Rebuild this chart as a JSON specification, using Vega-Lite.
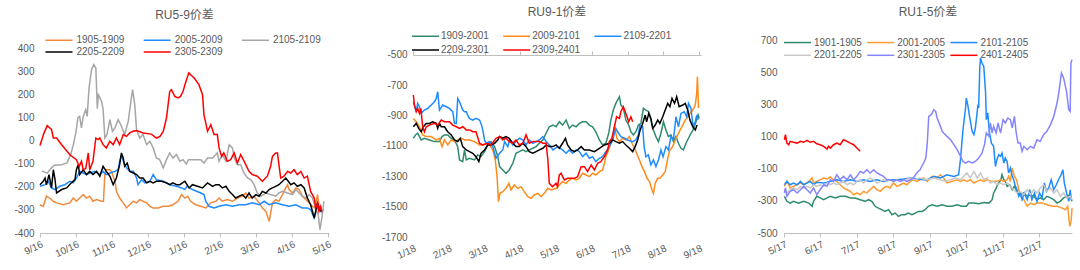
{
"$schema": "https://vega.github.io/schema/vega-lite/v6.json",
"padding": {"left": 0, "top": 6, "right": 0, "bottom": 0},
"background": "white",
"spacing": 40,
"resolve": {"scale": {"color": "independent"}, "legend": {"color": "independent"}},
"config": {
  "view": {"stroke": null},
  "font": "Liberation Sans, Noto Sans CJK SC",
  "axis": {"labelColor": "#595959", "labelFontSize": 10, "labelFont": "Liberation Sans", "grid": false, "title": null, "domainColor": "#BFBFBF", "tickColor": "#BFBFBF"},
  "legend": {"symbolType": "M-1.2,0H3.8", "symbolSize": 116.6, "symbolStrokeWidth": 2, "labelFontSize": 10, "labelColor": "#595959", "labelFont": "Liberation Sans", "title": null, "padding": 0, "offset": 0, "direction": "horizontal"},
  "title": {"fontSize": 12, "fontWeight": "normal", "color": "#595959", "font": "Liberation Sans, Noto Sans CJK SC"},
  "line": {"strokeWidth": 1.5}
},
"datasets": {
"p1": [
{"s":"1905-1909","m":0,"v":-277},{"s":"1905-1909","m":0.09,"v":-284},{"s":"1905-1909","m":0.18,"v":-240},{"s":"1905-1909","m":0.27,"v":-248},{"s":"1905-1909","m":0.37,"v":-262},{"s":"1905-1909","m":0.46,"v":-269},{"s":"1905-1909","m":0.64,"v":-277},{"s":"1905-1909","m":0.83,"v":-269},{"s":"1905-1909","m":0.92,"v":-248},{"s":"1905-1909","m":1.01,"v":-262},{"s":"1905-1909","m":1.1,"v":-248},{"s":"1905-1909","m":1.2,"v":-233},{"s":"1905-1909","m":1.29,"v":-248},{"s":"1905-1909","m":1.38,"v":-240},{"s":"1905-1909","m":1.47,"v":-262},{"s":"1905-1909","m":1.57,"v":-255},{"s":"1905-1909","m":1.71,"v":-262},{"s":"1905-1909","m":1.76,"v":-262},{"s":"1905-1909","m":1.8,"v":-146},{"s":"1905-1909","m":1.84,"v":-125},{"s":"1905-1909","m":1.94,"v":-125},{"s":"1905-1909","m":1.98,"v":-132},{"s":"1905-1909","m":2.08,"v":-175},{"s":"1905-1909","m":2.12,"v":-219},{"s":"1905-1909","m":2.21,"v":-248},{"s":"1905-1909","m":2.31,"v":-269},{"s":"1905-1909","m":2.4,"v":-291},{"s":"1905-1909","m":2.49,"v":-277},{"s":"1905-1909","m":2.59,"v":-262},{"s":"1905-1909","m":2.68,"v":-269},{"s":"1905-1909","m":2.77,"v":-255},{"s":"1905-1909","m":2.86,"v":-262},{"s":"1905-1909","m":2.96,"v":-269},{"s":"1905-1909","m":3.05,"v":-284},{"s":"1905-1909","m":3.14,"v":-291},{"s":"1905-1909","m":3.28,"v":-291},{"s":"1905-1909","m":3.42,"v":-284},{"s":"1905-1909","m":3.56,"v":-284},{"s":"1905-1909","m":3.69,"v":-277},{"s":"1905-1909","m":3.83,"v":-262},{"s":"1905-1909","m":3.93,"v":-233},{"s":"1905-1909","m":4.02,"v":-248},{"s":"1905-1909","m":4.1,"v":-240},{"s":"1905-1909","m":4.18,"v":-262},{"s":"1905-1909","m":4.32,"v":-277},{"s":"1905-1909","m":4.46,"v":-284},{"s":"1905-1909","m":4.6,"v":-291},{"s":"1905-1909","m":4.74,"v":-269},{"s":"1905-1909","m":4.88,"v":-262},{"s":"1905-1909","m":4.97,"v":-248},{"s":"1905-1909","m":5.06,"v":-262},{"s":"1905-1909","m":5.2,"v":-255},{"s":"1905-1909","m":5.34,"v":-262},{"s":"1905-1909","m":5.48,"v":-248},{"s":"1905-1909","m":5.62,"v":-240},{"s":"1905-1909","m":5.71,"v":-226},{"s":"1905-1909","m":5.8,"v":-248},{"s":"1905-1909","m":5.94,"v":-240},{"s":"1905-1909","m":6.08,"v":-269},{"s":"1905-1909","m":6.17,"v":-291},{"s":"1905-1909","m":6.27,"v":-306},{"s":"1905-1909","m":6.36,"v":-349},{"s":"1905-1909","m":6.41,"v":-306},{"s":"1905-1909","m":6.45,"v":-269},{"s":"1905-1909","m":6.54,"v":-255},{"s":"1905-1909","m":6.63,"v":-262},{"s":"1905-1909","m":6.73,"v":-233},{"s":"1905-1909","m":6.82,"v":-204},{"s":"1905-1909","m":6.87,"v":-190},{"s":"1905-1909","m":6.91,"v":-211},{"s":"1905-1909","m":7.01,"v":-226},{"s":"1905-1909","m":7.1,"v":-204},{"s":"1905-1909","m":7.19,"v":-211},{"s":"1905-1909","m":7.28,"v":-240},{"s":"1905-1909","m":7.38,"v":-255},{"s":"1905-1909","m":7.47,"v":-269},{"s":"1905-1909","m":7.56,"v":-284},{"s":"1905-1909","m":7.63,"v":-291},{"s":"1905-1909","m":7.7,"v":-233},{"s":"1905-1909","m":7.74,"v":-277},{"s":"1905-1909","m":7.79,"v":-298},
{"s":"2005-2009","m":0,"v":-197},{"s":"2005-2009","m":0.14,"v":-190},{"s":"2005-2009","m":0.23,"v":-175},{"s":"2005-2009","m":0.32,"v":-204},{"s":"2005-2009","m":0.41,"v":-211},{"s":"2005-2009","m":0.55,"v":-197},{"s":"2005-2009","m":0.69,"v":-190},{"s":"2005-2009","m":0.83,"v":-175},{"s":"2005-2009","m":0.92,"v":-182},{"s":"2005-2009","m":1.01,"v":-161},{"s":"2005-2009","m":1.1,"v":-132},{"s":"2005-2009","m":1.2,"v":-139},{"s":"2005-2009","m":1.29,"v":-146},{"s":"2005-2009","m":1.38,"v":-139},{"s":"2005-2009","m":1.52,"v":-132},{"s":"2005-2009","m":1.66,"v":-146},{"s":"2005-2009","m":1.75,"v":-132},{"s":"2005-2009","m":1.84,"v":-146},{"s":"2005-2009","m":1.94,"v":-139},{"s":"2005-2009","m":2.08,"v":-132},{"s":"2005-2009","m":2.17,"v":-125},{"s":"2005-2009","m":2.21,"v":-88},{"s":"2005-2009","m":2.26,"v":-62},{"s":"2005-2009","m":2.33,"v":-96},{"s":"2005-2009","m":2.4,"v":-117},{"s":"2005-2009","m":2.49,"v":-132},{"s":"2005-2009","m":2.59,"v":-132},{"s":"2005-2009","m":2.68,"v":-161},{"s":"2005-2009","m":2.72,"v":-190},{"s":"2005-2009","m":2.82,"v":-168},{"s":"2005-2009","m":2.91,"v":-182},{"s":"2005-2009","m":3.05,"v":-175},{"s":"2005-2009","m":3.14,"v":-146},{"s":"2005-2009","m":3.23,"v":-168},{"s":"2005-2009","m":3.42,"v":-175},{"s":"2005-2009","m":3.6,"v":-190},{"s":"2005-2009","m":3.79,"v":-197},{"s":"2005-2009","m":3.93,"v":-204},{"s":"2005-2009","m":4.02,"v":-211},{"s":"2005-2009","m":4.08,"v":-197},{"s":"2005-2009","m":4.23,"v":-211},{"s":"2005-2009","m":4.46,"v":-226},{"s":"2005-2009","m":4.55,"v":-233},{"s":"2005-2009","m":4.6,"v":-262},{"s":"2005-2009","m":4.69,"v":-284},{"s":"2005-2009","m":4.83,"v":-291},{"s":"2005-2009","m":4.97,"v":-284},{"s":"2005-2009","m":5.16,"v":-277},{"s":"2005-2009","m":5.34,"v":-284},{"s":"2005-2009","m":5.53,"v":-277},{"s":"2005-2009","m":5.71,"v":-277},{"s":"2005-2009","m":5.89,"v":-269},{"s":"2005-2009","m":6.08,"v":-277},{"s":"2005-2009","m":6.22,"v":-262},{"s":"2005-2009","m":6.36,"v":-277},{"s":"2005-2009","m":6.54,"v":-269},{"s":"2005-2009","m":6.73,"v":-277},{"s":"2005-2009","m":6.91,"v":-284},{"s":"2005-2009","m":7.1,"v":-277},{"s":"2005-2009","m":7.28,"v":-291},{"s":"2005-2009","m":7.42,"v":-291},{"s":"2005-2009","m":7.51,"v":-298},{"s":"2005-2009","m":7.61,"v":-335},{"s":"2005-2009","m":7.7,"v":-284},{"s":"2005-2009","m":7.79,"v":-306},{"s":"2005-2009","m":7.88,"v":-298},
{"s":"2105-2109","m":0.05,"v":-130},{"s":"2105-2109","m":0.2,"v":-140},{"s":"2105-2109","m":0.3,"v":-120},{"s":"2105-2109","m":0.4,"v":-105},{"s":"2105-2109","m":0.6,"v":-103},{"s":"2105-2109","m":0.75,"v":-95},{"s":"2105-2109","m":0.85,"v":-60},{"s":"2105-2109","m":0.92,"v":-20},{"s":"2105-2109","m":1.0,"v":40},{"s":"2105-2109","m":1.05,"v":100},{"s":"2105-2109","m":1.1,"v":107},{"s":"2105-2109","m":1.15,"v":57},{"s":"2105-2109","m":1.2,"v":107},{"s":"2105-2109","m":1.27,"v":136},{"s":"2105-2109","m":1.31,"v":107},{"s":"2105-2109","m":1.36,"v":230},{"s":"2105-2109","m":1.43,"v":310},{"s":"2105-2109","m":1.49,"v":332},{"s":"2105-2109","m":1.55,"v":317},{"s":"2105-2109","m":1.59,"v":140},{"s":"2105-2109","m":1.62,"v":201},{"s":"2105-2109","m":1.66,"v":190},{"s":"2105-2109","m":1.71,"v":170},{"s":"2105-2109","m":1.75,"v":140},{"s":"2105-2109","m":1.8,"v":13},{"s":"2105-2109","m":1.86,"v":28},{"s":"2105-2109","m":1.94,"v":93},{"s":"2105-2109","m":2.01,"v":42},{"s":"2105-2109","m":2.08,"v":57},{"s":"2105-2109","m":2.17,"v":93},{"s":"2105-2109","m":2.26,"v":64},{"s":"2105-2109","m":2.35,"v":28},{"s":"2105-2109","m":2.45,"v":86},{"s":"2105-2109","m":2.51,"v":158},{"s":"2105-2109","m":2.57,"v":223},{"s":"2105-2109","m":2.63,"v":158},{"s":"2105-2109","m":2.68,"v":49},{"s":"2105-2109","m":2.77,"v":13},{"s":"2105-2109","m":2.86,"v":28},{"s":"2105-2109","m":2.96,"v":-16},{"s":"2105-2109","m":3.05,"v":-1},{"s":"2105-2109","m":3.14,"v":-30},{"s":"2105-2109","m":3.23,"v":-74},{"s":"2105-2109","m":3.32,"v":-81},{"s":"2105-2109","m":3.42,"v":-117},{"s":"2105-2109","m":3.51,"v":-81},{"s":"2105-2109","m":3.6,"v":-52},{"s":"2105-2109","m":3.69,"v":-74},{"s":"2105-2109","m":3.79,"v":-59},{"s":"2105-2109","m":3.88,"v":-88},{"s":"2105-2109","m":3.97,"v":-81},{"s":"2105-2109","m":4.06,"v":-100},{"s":"2105-2109","m":4.12,"v":-81},{"s":"2105-2109","m":4.23,"v":-81},{"s":"2105-2109","m":4.46,"v":-81},{"s":"2105-2109","m":4.55,"v":-96},{"s":"2105-2109","m":4.65,"v":-74},{"s":"2105-2109","m":4.79,"v":-74},{"s":"2105-2109","m":4.88,"v":-59},{"s":"2105-2109","m":4.92,"v":-52},{"s":"2105-2109","m":4.97,"v":-88},{"s":"2105-2109","m":5.06,"v":-59},{"s":"2105-2109","m":5.16,"v":-88},{"s":"2105-2109","m":5.25,"v":-16},{"s":"2105-2109","m":5.34,"v":-30},{"s":"2105-2109","m":5.39,"v":-74},{"s":"2105-2109","m":5.48,"v":-103},{"s":"2105-2109","m":5.57,"v":-103},{"s":"2105-2109","m":5.66,"v":-139},{"s":"2105-2109","m":5.76,"v":-161},{"s":"2105-2109","m":5.85,"v":-168},{"s":"2105-2109","m":5.94,"v":-190},{"s":"2105-2109","m":6.03,"v":-226},{"s":"2105-2109","m":6.13,"v":-240},{"s":"2105-2109","m":6.27,"v":-226},{"s":"2105-2109","m":6.4,"v":-233},{"s":"2105-2109","m":6.54,"v":-240},{"s":"2105-2109","m":6.63,"v":-226},{"s":"2105-2109","m":6.73,"v":-219},{"s":"2105-2109","m":6.87,"v":-226},{"s":"2105-2109","m":7.01,"v":-233},{"s":"2105-2109","m":7.1,"v":-211},{"s":"2105-2109","m":7.19,"v":-226},{"s":"2105-2109","m":7.28,"v":-240},{"s":"2105-2109","m":7.38,"v":-248},{"s":"2105-2109","m":7.47,"v":-233},{"s":"2105-2109","m":7.56,"v":-248},{"s":"2105-2109","m":7.65,"v":-291},{"s":"2105-2109","m":7.72,"v":-320},{"s":"2105-2109","m":7.77,"v":-385},{"s":"2105-2109","m":7.82,"v":-335},{"s":"2105-2109","m":7.88,"v":-262},
{"s":"2205-2209","m":0,"v":-190},{"s":"2205-2209","m":0.09,"v":-175},{"s":"2205-2209","m":0.14,"v":-161},{"s":"2205-2209","m":0.18,"v":-190},{"s":"2205-2209","m":0.25,"v":-146},{"s":"2205-2209","m":0.32,"v":-204},{"s":"2205-2209","m":0.37,"v":-125},{"s":"2205-2209","m":0.41,"v":-161},{"s":"2205-2209","m":0.46,"v":-226},{"s":"2205-2209","m":0.6,"v":-211},{"s":"2205-2209","m":0.74,"v":-204},{"s":"2205-2209","m":0.87,"v":-182},{"s":"2205-2209","m":0.97,"v":-168},{"s":"2205-2209","m":1.01,"v":-125},{"s":"2205-2209","m":1.06,"v":-103},{"s":"2205-2209","m":1.1,"v":-146},{"s":"2205-2209","m":1.2,"v":-125},{"s":"2205-2209","m":1.29,"v":-146},{"s":"2205-2209","m":1.38,"v":-132},{"s":"2205-2209","m":1.47,"v":-146},{"s":"2205-2209","m":1.57,"v":-132},{"s":"2205-2209","m":1.66,"v":-153},{"s":"2205-2209","m":1.75,"v":-110},{"s":"2205-2209","m":1.84,"v":-132},{"s":"2205-2209","m":1.94,"v":-153},{"s":"2205-2209","m":2.03,"v":-190},{"s":"2205-2209","m":2.12,"v":-161},{"s":"2205-2209","m":2.21,"v":-103},{"s":"2205-2209","m":2.26,"v":-52},{"s":"2205-2209","m":2.31,"v":-74},{"s":"2205-2209","m":2.35,"v":-110},{"s":"2205-2209","m":2.42,"v":-96},{"s":"2205-2209","m":2.49,"v":-132},{"s":"2205-2209","m":2.59,"v":-139},{"s":"2205-2209","m":2.68,"v":-146},{"s":"2205-2209","m":2.77,"v":-161},{"s":"2205-2209","m":2.86,"v":-161},{"s":"2205-2209","m":2.96,"v":-182},{"s":"2205-2209","m":3.05,"v":-175},{"s":"2205-2209","m":3.14,"v":-182},{"s":"2205-2209","m":3.23,"v":-175},{"s":"2205-2209","m":3.37,"v":-175},{"s":"2205-2209","m":3.51,"v":-182},{"s":"2205-2209","m":3.6,"v":-190},{"s":"2205-2209","m":3.69,"v":-182},{"s":"2205-2209","m":3.79,"v":-190},{"s":"2205-2209","m":3.88,"v":-190},{"s":"2205-2209","m":4.02,"v":-175},{"s":"2205-2209","m":4.14,"v":-204},{"s":"2205-2209","m":4.23,"v":-190},{"s":"2205-2209","m":4.37,"v":-197},{"s":"2205-2209","m":4.51,"v":-204},{"s":"2205-2209","m":4.65,"v":-182},{"s":"2205-2209","m":4.79,"v":-197},{"s":"2205-2209","m":4.88,"v":-190},{"s":"2205-2209","m":4.97,"v":-190},{"s":"2205-2209","m":5.06,"v":-204},{"s":"2205-2209","m":5.16,"v":-197},{"s":"2205-2209","m":5.25,"v":-219},{"s":"2205-2209","m":5.34,"v":-233},{"s":"2205-2209","m":5.43,"v":-248},{"s":"2205-2209","m":5.53,"v":-240},{"s":"2205-2209","m":5.62,"v":-233},{"s":"2205-2209","m":5.71,"v":-248},{"s":"2205-2209","m":5.8,"v":-226},{"s":"2205-2209","m":5.89,"v":-248},{"s":"2205-2209","m":5.99,"v":-233},{"s":"2205-2209","m":6.08,"v":-240},{"s":"2205-2209","m":6.17,"v":-219},{"s":"2205-2209","m":6.27,"v":-226},{"s":"2205-2209","m":6.36,"v":-211},{"s":"2205-2209","m":6.45,"v":-204},{"s":"2205-2209","m":6.54,"v":-197},{"s":"2205-2209","m":6.63,"v":-190},{"s":"2205-2209","m":6.73,"v":-175},{"s":"2205-2209","m":6.82,"v":-161},{"s":"2205-2209","m":6.89,"v":-175},{"s":"2205-2209","m":6.96,"v":-190},{"s":"2205-2209","m":7.05,"v":-182},{"s":"2205-2209","m":7.14,"v":-197},{"s":"2205-2209","m":7.24,"v":-190},{"s":"2205-2209","m":7.33,"v":-204},{"s":"2205-2209","m":7.42,"v":-248},{"s":"2205-2209","m":7.51,"v":-277},{"s":"2205-2209","m":7.61,"v":-335},{"s":"2205-2209","m":7.65,"v":-306},{"s":"2205-2209","m":7.7,"v":-269},{"s":"2205-2209","m":7.74,"v":-291},{"s":"2205-2209","m":7.79,"v":-306},
{"s":"2305-2309","m":0,"v":-20},{"s":"2305-2309","m":0.1,"v":30},{"s":"2305-2309","m":0.2,"v":67},{"s":"2305-2309","m":0.25,"v":60},{"s":"2305-2309","m":0.32,"v":50},{"s":"2305-2309","m":0.37,"v":13},{"s":"2305-2309","m":0.46,"v":13},{"s":"2305-2309","m":0.6,"v":-16},{"s":"2305-2309","m":0.83,"v":-60},{"s":"2305-2309","m":1.01,"v":-81},{"s":"2305-2309","m":1.09,"v":-110},{"s":"2305-2309","m":1.15,"v":-88},{"s":"2305-2309","m":1.2,"v":-125},{"s":"2305-2309","m":1.27,"v":-120},{"s":"2305-2309","m":1.34,"v":-52},{"s":"2305-2309","m":1.38,"v":-125},{"s":"2305-2309","m":1.47,"v":-88},{"s":"2305-2309","m":1.55,"v":13},{"s":"2305-2309","m":1.61,"v":6},{"s":"2305-2309","m":1.66,"v":13},{"s":"2305-2309","m":1.75,"v":-16},{"s":"2305-2309","m":1.84,"v":-30},{"s":"2305-2309","m":1.94,"v":-1},{"s":"2305-2309","m":2.03,"v":-16},{"s":"2305-2309","m":2.12,"v":13},{"s":"2305-2309","m":2.21,"v":-16},{"s":"2305-2309","m":2.31,"v":28},{"s":"2305-2309","m":2.4,"v":20},{"s":"2305-2309","m":2.49,"v":35},{"s":"2305-2309","m":2.58,"v":42},{"s":"2305-2309","m":2.68,"v":45},{"s":"2305-2309","m":2.86,"v":35},{"s":"2305-2309","m":3.09,"v":30},{"s":"2305-2309","m":3.23,"v":13},{"s":"2305-2309","m":3.33,"v":20},{"s":"2305-2309","m":3.42,"v":42},{"s":"2305-2309","m":3.51,"v":100},{"s":"2305-2309","m":3.6,"v":216},{"s":"2305-2309","m":3.65,"v":223},{"s":"2305-2309","m":3.74,"v":194},{"s":"2305-2309","m":3.83,"v":187},{"s":"2305-2309","m":3.9,"v":194},{"s":"2305-2309","m":3.97,"v":216},{"s":"2305-2309","m":4.05,"v":259},{"s":"2305-2309","m":4.13,"v":296},{"s":"2305-2309","m":4.18,"v":288},{"s":"2305-2309","m":4.28,"v":274},{"s":"2305-2309","m":4.41,"v":245},{"s":"2305-2309","m":4.51,"v":201},{"s":"2305-2309","m":4.55,"v":115},{"s":"2305-2309","m":4.65,"v":42},{"s":"2305-2309","m":4.74,"v":71},{"s":"2305-2309","m":4.83,"v":28},{"s":"2305-2309","m":4.92,"v":28},{"s":"2305-2309","m":4.97,"v":-30},{"s":"2305-2309","m":5.04,"v":-67},{"s":"2305-2309","m":5.1,"v":-52},{"s":"2305-2309","m":5.2,"v":-88},{"s":"2305-2309","m":5.29,"v":-81},{"s":"2305-2309","m":5.39,"v":-52},{"s":"2305-2309","m":5.48,"v":-96},{"s":"2305-2309","m":5.57,"v":-59},{"s":"2305-2309","m":5.71,"v":-103},{"s":"2305-2309","m":5.8,"v":-132},{"s":"2305-2309","m":5.89,"v":-146},{"s":"2305-2309","m":6.03,"v":-153},{"s":"2305-2309","m":6.17,"v":-175},{"s":"2305-2309","m":6.31,"v":-153},{"s":"2305-2309","m":6.4,"v":-110},{"s":"2305-2309","m":6.45,"v":-67},{"s":"2305-2309","m":6.54,"v":-52},{"s":"2305-2309","m":6.59,"v":-52},{"s":"2305-2309","m":6.63,"v":-103},{"s":"2305-2309","m":6.68,"v":-161},{"s":"2305-2309","m":6.77,"v":-153},{"s":"2305-2309","m":6.87,"v":-132},{"s":"2305-2309","m":6.96,"v":-139},{"s":"2305-2309","m":7.05,"v":-125},{"s":"2305-2309","m":7.14,"v":-146},{"s":"2305-2309","m":7.24,"v":-132},{"s":"2305-2309","m":7.33,"v":-161},{"s":"2305-2309","m":7.42,"v":-153},{"s":"2305-2309","m":7.51,"v":-219},{"s":"2305-2309","m":7.61,"v":-248},{"s":"2305-2309","m":7.65,"v":-291},{"s":"2305-2309","m":7.7,"v":-269},{"s":"2305-2309","m":7.74,"v":-306},{"s":"2305-2309","m":7.79,"v":-284},{"s":"2305-2309","m":7.82,"v":-310}
],
"p2": [
{"s":"1909-2001","m":0.01,"v":-1049},{"s":"1909-2001","m":0.07,"v":-1027},{"s":"1909-2001","m":0.13,"v":-1016},{"s":"1909-2001","m":0.23,"v":-1060},{"s":"1909-2001","m":0.32,"v":-1049},{"s":"1909-2001","m":0.46,"v":-1060},{"s":"1909-2001","m":0.6,"v":-1071},{"s":"1909-2001","m":0.74,"v":-1071},{"s":"1909-2001","m":0.81,"v":-1038},{"s":"1909-2001","m":0.88,"v":-1027},{"s":"1909-2001","m":0.97,"v":-1027},{"s":"1909-2001","m":1.07,"v":-1049},{"s":"1909-2001","m":1.16,"v":-1060},{"s":"1909-2001","m":1.25,"v":-1104},{"s":"1909-2001","m":1.3,"v":-1192},{"s":"1909-2001","m":1.39,"v":-1203},{"s":"1909-2001","m":1.44,"v":-1126},{"s":"1909-2001","m":1.49,"v":-1192},{"s":"1909-2001","m":1.58,"v":-1181},{"s":"1909-2001","m":1.72,"v":-1192},{"s":"1909-2001","m":1.81,"v":-1159},{"s":"1909-2001","m":1.9,"v":-1170},{"s":"1909-2001","m":2.0,"v":-1137},{"s":"1909-2001","m":2.09,"v":-1093},{"s":"1909-2001","m":2.18,"v":-1071},{"s":"1909-2001","m":2.28,"v":-1104},{"s":"1909-2001","m":2.37,"v":-1170},{"s":"1909-2001","m":2.42,"v":-1236},{"s":"1909-2001","m":2.51,"v":-1258},{"s":"1909-2001","m":2.6,"v":-1280},{"s":"1909-2001","m":2.69,"v":-1258},{"s":"1909-2001","m":2.79,"v":-1214},{"s":"1909-2001","m":2.88,"v":-1148},{"s":"1909-2001","m":2.97,"v":-1137},{"s":"1909-2001","m":3.07,"v":-1126},{"s":"1909-2001","m":3.16,"v":-1137},{"s":"1909-2001","m":3.25,"v":-1126},{"s":"1909-2001","m":3.35,"v":-1115},{"s":"1909-2001","m":3.44,"v":-1104},{"s":"1909-2001","m":3.53,"v":-1082},{"s":"1909-2001","m":3.63,"v":-1060},{"s":"1909-2001","m":3.72,"v":-1016},{"s":"1909-2001","m":3.81,"v":-973},{"s":"1909-2001","m":3.91,"v":-962},{"s":"1909-2001","m":4.0,"v":-973},{"s":"1909-2001","m":4.09,"v":-940},{"s":"1909-2001","m":4.18,"v":-962},{"s":"1909-2001","m":4.28,"v":-929},{"s":"1909-2001","m":4.37,"v":-984},{"s":"1909-2001","m":4.46,"v":-962},{"s":"1909-2001","m":4.56,"v":-973},{"s":"1909-2001","m":4.65,"v":-951},{"s":"1909-2001","m":4.74,"v":-940},{"s":"1909-2001","m":4.84,"v":-940},{"s":"1909-2001","m":4.93,"v":-962},{"s":"1909-2001","m":5.02,"v":-973},{"s":"1909-2001","m":5.11,"v":-1006},{"s":"1909-2001","m":5.21,"v":-1060},{"s":"1909-2001","m":5.3,"v":-1093},{"s":"1909-2001","m":5.39,"v":-1082},{"s":"1909-2001","m":5.47,"v":-1016},{"s":"1909-2001","m":5.53,"v":-929},{"s":"1909-2001","m":5.6,"v":-863},{"s":"1909-2001","m":5.67,"v":-819},{"s":"1909-2001","m":5.77,"v":-775},{"s":"1909-2001","m":5.81,"v":-830},{"s":"1909-2001","m":5.88,"v":-852},{"s":"1909-2001","m":5.95,"v":-929},{"s":"1909-2001","m":6.03,"v":-962},{"s":"1909-2001","m":6.09,"v":-1006},{"s":"1909-2001","m":6.16,"v":-1027},{"s":"1909-2001","m":6.23,"v":-1006},{"s":"1909-2001","m":6.3,"v":-962},{"s":"1909-2001","m":6.37,"v":-951},{"s":"1909-2001","m":6.44,"v":-852},{"s":"1909-2001","m":6.51,"v":-863},{"s":"1909-2001","m":6.59,"v":-874},{"s":"1909-2001","m":6.65,"v":-929},{"s":"1909-2001","m":6.72,"v":-994},{"s":"1909-2001","m":6.79,"v":-1038},{"s":"1909-2001","m":6.86,"v":-1071},{"s":"1909-2001","m":6.93,"v":-1016},{"s":"1909-2001","m":7.0,"v":-940},{"s":"1909-2001","m":7.07,"v":-994},{"s":"1909-2001","m":7.14,"v":-1038},{"s":"1909-2001","m":7.21,"v":-1027},{"s":"1909-2001","m":7.28,"v":-1071},{"s":"1909-2001","m":7.35,"v":-1038},{"s":"1909-2001","m":7.42,"v":-1082},{"s":"1909-2001","m":7.49,"v":-1115},{"s":"1909-2001","m":7.56,"v":-1126},{"s":"1909-2001","m":7.63,"v":-1082},{"s":"1909-2001","m":7.7,"v":-1049},{"s":"1909-2001","m":7.77,"v":-1016},{"s":"1909-2001","m":7.83,"v":-994},{"s":"1909-2001","m":7.91,"v":-940},{"s":"1909-2001","m":7.97,"v":-896},{"s":"1909-2001","m":8.0,"v":-918},
{"s":"2009-2101","m":0.01,"v":-918},{"s":"2009-2101","m":0.09,"v":-940},{"s":"2009-2101","m":0.18,"v":-973},{"s":"2009-2101","m":0.27,"v":-1027},{"s":"2009-2101","m":0.37,"v":-1038},{"s":"2009-2101","m":0.51,"v":-1038},{"s":"2009-2101","m":0.65,"v":-1060},{"s":"2009-2101","m":0.74,"v":-1049},{"s":"2009-2101","m":0.81,"v":-1104},{"s":"2009-2101","m":0.88,"v":-1060},{"s":"2009-2101","m":0.97,"v":-1093},{"s":"2009-2101","m":1.07,"v":-1060},{"s":"2009-2101","m":1.16,"v":-1071},{"s":"2009-2101","m":1.25,"v":-1060},{"s":"2009-2101","m":1.35,"v":-1049},{"s":"2009-2101","m":1.44,"v":-1060},{"s":"2009-2101","m":1.58,"v":-1060},{"s":"2009-2101","m":1.72,"v":-1071},{"s":"2009-2101","m":1.86,"v":-1093},{"s":"2009-2101","m":1.95,"v":-1093},{"s":"2009-2101","m":2.04,"v":-1082},{"s":"2009-2101","m":2.14,"v":-1093},{"s":"2009-2101","m":2.23,"v":-1126},{"s":"2009-2101","m":2.3,"v":-1192},{"s":"2009-2101","m":2.35,"v":-1302},{"s":"2009-2101","m":2.39,"v":-1467},{"s":"2009-2101","m":2.43,"v":-1412},{"s":"2009-2101","m":2.51,"v":-1401},{"s":"2009-2101","m":2.6,"v":-1379},{"s":"2009-2101","m":2.68,"v":-1346},{"s":"2009-2101","m":2.74,"v":-1390},{"s":"2009-2101","m":2.83,"v":-1357},{"s":"2009-2101","m":2.93,"v":-1379},{"s":"2009-2101","m":3.02,"v":-1368},{"s":"2009-2101","m":3.11,"v":-1401},{"s":"2009-2101","m":3.21,"v":-1434},{"s":"2009-2101","m":3.3,"v":-1445},{"s":"2009-2101","m":3.39,"v":-1423},{"s":"2009-2101","m":3.49,"v":-1412},{"s":"2009-2101","m":3.58,"v":-1434},{"s":"2009-2101","m":3.67,"v":-1412},{"s":"2009-2101","m":3.77,"v":-1379},{"s":"2009-2101","m":3.86,"v":-1390},{"s":"2009-2101","m":4.0,"v":-1379},{"s":"2009-2101","m":4.09,"v":-1357},{"s":"2009-2101","m":4.18,"v":-1335},{"s":"2009-2101","m":4.28,"v":-1346},{"s":"2009-2101","m":4.37,"v":-1324},{"s":"2009-2101","m":4.46,"v":-1313},{"s":"2009-2101","m":4.56,"v":-1324},{"s":"2009-2101","m":4.65,"v":-1313},{"s":"2009-2101","m":4.74,"v":-1280},{"s":"2009-2101","m":4.84,"v":-1291},{"s":"2009-2101","m":4.93,"v":-1302},{"s":"2009-2101","m":5.02,"v":-1280},{"s":"2009-2101","m":5.11,"v":-1291},{"s":"2009-2101","m":5.21,"v":-1269},{"s":"2009-2101","m":5.3,"v":-1258},{"s":"2009-2101","m":5.35,"v":-1214},{"s":"2009-2101","m":5.39,"v":-1170},{"s":"2009-2101","m":5.47,"v":-1126},{"s":"2009-2101","m":5.53,"v":-1082},{"s":"2009-2101","m":5.58,"v":-1060},{"s":"2009-2101","m":5.63,"v":-973},{"s":"2009-2101","m":5.7,"v":-1049},{"s":"2009-2101","m":5.77,"v":-1071},{"s":"2009-2101","m":5.86,"v":-1049},{"s":"2009-2101","m":5.95,"v":-1060},{"s":"2009-2101","m":6.05,"v":-1038},{"s":"2009-2101","m":6.12,"v":-1082},{"s":"2009-2101","m":6.19,"v":-1115},{"s":"2009-2101","m":6.25,"v":-1148},{"s":"2009-2101","m":6.33,"v":-1192},{"s":"2009-2101","m":6.4,"v":-1236},{"s":"2009-2101","m":6.47,"v":-1269},{"s":"2009-2101","m":6.54,"v":-1313},{"s":"2009-2101","m":6.61,"v":-1335},{"s":"2009-2101","m":6.68,"v":-1390},{"s":"2009-2101","m":6.72,"v":-1412},{"s":"2009-2101","m":6.77,"v":-1346},{"s":"2009-2101","m":6.84,"v":-1313},{"s":"2009-2101","m":6.9,"v":-1313},{"s":"2009-2101","m":6.98,"v":-1291},{"s":"2009-2101","m":7.05,"v":-1269},{"s":"2009-2101","m":7.12,"v":-1181},{"s":"2009-2101","m":7.18,"v":-1126},{"s":"2009-2101","m":7.26,"v":-1104},{"s":"2009-2101","m":7.33,"v":-1060},{"s":"2009-2101","m":7.4,"v":-1027},{"s":"2009-2101","m":7.47,"v":-994},{"s":"2009-2101","m":7.54,"v":-962},{"s":"2009-2101","m":7.61,"v":-929},{"s":"2009-2101","m":7.68,"v":-907},{"s":"2009-2101","m":7.74,"v":-885},{"s":"2009-2101","m":7.82,"v":-863},{"s":"2009-2101","m":7.89,"v":-830},{"s":"2009-2101","m":7.93,"v":-753},{"s":"2009-2101","m":7.95,"v":-643},{"s":"2009-2101","m":7.98,"v":-850},
{"s":"2109-2201","m":0.01,"v":-808},{"s":"2109-2201","m":0.09,"v":-874},{"s":"2109-2201","m":0.13,"v":-819},{"s":"2109-2201","m":0.18,"v":-841},{"s":"2109-2201","m":0.23,"v":-885},{"s":"2109-2201","m":0.32,"v":-863},{"s":"2109-2201","m":0.41,"v":-852},{"s":"2109-2201","m":0.51,"v":-830},{"s":"2109-2201","m":0.6,"v":-808},{"s":"2109-2201","m":0.65,"v":-786},{"s":"2109-2201","m":0.69,"v":-742},{"s":"2109-2201","m":0.74,"v":-863},{"s":"2109-2201","m":0.83,"v":-830},{"s":"2109-2201","m":0.93,"v":-841},{"s":"2109-2201","m":1.02,"v":-852},{"s":"2109-2201","m":1.11,"v":-874},{"s":"2109-2201","m":1.16,"v":-951},{"s":"2109-2201","m":1.21,"v":-951},{"s":"2109-2201","m":1.25,"v":-786},{"s":"2109-2201","m":1.3,"v":-808},{"s":"2109-2201","m":1.39,"v":-863},{"s":"2109-2201","m":1.44,"v":-874},{"s":"2109-2201","m":1.49,"v":-874},{"s":"2109-2201","m":1.53,"v":-896},{"s":"2109-2201","m":1.58,"v":-918},{"s":"2109-2201","m":1.67,"v":-929},{"s":"2109-2201","m":1.76,"v":-918},{"s":"2109-2201","m":1.86,"v":-929},{"s":"2109-2201","m":1.9,"v":-951},{"s":"2109-2201","m":1.95,"v":-994},{"s":"2109-2201","m":2.0,"v":-1060},{"s":"2109-2201","m":2.04,"v":-1082},{"s":"2109-2201","m":2.14,"v":-1071},{"s":"2109-2201","m":2.23,"v":-1104},{"s":"2109-2201","m":2.32,"v":-1181},{"s":"2109-2201","m":2.42,"v":-1148},{"s":"2109-2201","m":2.51,"v":-1126},{"s":"2109-2201","m":2.56,"v":-1071},{"s":"2109-2201","m":2.65,"v":-1104},{"s":"2109-2201","m":2.7,"v":-1060},{"s":"2109-2201","m":2.79,"v":-1093},{"s":"2109-2201","m":2.88,"v":-1071},{"s":"2109-2201","m":2.97,"v":-1049},{"s":"2109-2201","m":3.07,"v":-1060},{"s":"2109-2201","m":3.16,"v":-1093},{"s":"2109-2201","m":3.25,"v":-1060},{"s":"2109-2201","m":3.35,"v":-1082},{"s":"2109-2201","m":3.44,"v":-1071},{"s":"2109-2201","m":3.53,"v":-1060},{"s":"2109-2201","m":3.63,"v":-1038},{"s":"2109-2201","m":3.72,"v":-1071},{"s":"2109-2201","m":3.81,"v":-1093},{"s":"2109-2201","m":3.91,"v":-1126},{"s":"2109-2201","m":4.04,"v":-1104},{"s":"2109-2201","m":4.18,"v":-1126},{"s":"2109-2201","m":4.28,"v":-1148},{"s":"2109-2201","m":4.37,"v":-1126},{"s":"2109-2201","m":4.46,"v":-1148},{"s":"2109-2201","m":4.56,"v":-1126},{"s":"2109-2201","m":4.65,"v":-1137},{"s":"2109-2201","m":4.74,"v":-1170},{"s":"2109-2201","m":4.84,"v":-1148},{"s":"2109-2201","m":4.93,"v":-1181},{"s":"2109-2201","m":5.02,"v":-1170},{"s":"2109-2201","m":5.11,"v":-1203},{"s":"2109-2201","m":5.21,"v":-1181},{"s":"2109-2201","m":5.3,"v":-1170},{"s":"2109-2201","m":5.39,"v":-1137},{"s":"2109-2201","m":5.49,"v":-1104},{"s":"2109-2201","m":5.58,"v":-1060},{"s":"2109-2201","m":5.67,"v":-984},{"s":"2109-2201","m":5.72,"v":-1006},{"s":"2109-2201","m":5.81,"v":-1038},{"s":"2109-2201","m":5.91,"v":-1049},{"s":"2109-2201","m":6.0,"v":-1060},{"s":"2109-2201","m":6.14,"v":-1071},{"s":"2109-2201","m":6.23,"v":-1060},{"s":"2109-2201","m":6.3,"v":-1027},{"s":"2109-2201","m":6.34,"v":-962},{"s":"2109-2201","m":6.42,"v":-973},{"s":"2109-2201","m":6.46,"v":-1104},{"s":"2109-2201","m":6.51,"v":-1170},{"s":"2109-2201","m":6.58,"v":-1159},{"s":"2109-2201","m":6.65,"v":-1225},{"s":"2109-2201","m":6.72,"v":-1192},{"s":"2109-2201","m":6.79,"v":-1236},{"s":"2109-2201","m":6.86,"v":-1192},{"s":"2109-2201","m":6.93,"v":-1126},{"s":"2109-2201","m":6.99,"v":-1170},{"s":"2109-2201","m":7.07,"v":-1104},{"s":"2109-2201","m":7.14,"v":-1126},{"s":"2109-2201","m":7.21,"v":-1038},{"s":"2109-2201","m":7.28,"v":-1060},{"s":"2109-2201","m":7.35,"v":-907},{"s":"2109-2201","m":7.42,"v":-973},{"s":"2109-2201","m":7.49,"v":-885},{"s":"2109-2201","m":7.58,"v":-874},{"s":"2109-2201","m":7.65,"v":-907},{"s":"2109-2201","m":7.7,"v":-819},{"s":"2109-2201","m":7.77,"v":-852},{"s":"2109-2201","m":7.83,"v":-973},{"s":"2109-2201","m":7.89,"v":-940},{"s":"2109-2201","m":7.93,"v":-896},{"s":"2109-2201","m":7.97,"v":-929},
{"s":"2209-2301","m":0.01,"v":-973},{"s":"2209-2301","m":0.09,"v":-951},{"s":"2209-2301","m":0.16,"v":-984},{"s":"2209-2301","m":0.23,"v":-1006},{"s":"2209-2301","m":0.29,"v":-973},{"s":"2209-2301","m":0.37,"v":-951},{"s":"2209-2301","m":0.46,"v":-951},{"s":"2209-2301","m":0.55,"v":-940},{"s":"2209-2301","m":0.65,"v":-951},{"s":"2209-2301","m":0.69,"v":-984},{"s":"2209-2301","m":0.74,"v":-951},{"s":"2209-2301","m":0.79,"v":-973},{"s":"2209-2301","m":0.88,"v":-973},{"s":"2209-2301","m":0.97,"v":-1006},{"s":"2209-2301","m":1.07,"v":-1027},{"s":"2209-2301","m":1.16,"v":-1060},{"s":"2209-2301","m":1.25,"v":-1071},{"s":"2209-2301","m":1.32,"v":-1049},{"s":"2209-2301","m":1.39,"v":-1104},{"s":"2209-2301","m":1.49,"v":-1126},{"s":"2209-2301","m":1.58,"v":-1137},{"s":"2209-2301","m":1.67,"v":-1148},{"s":"2209-2301","m":1.76,"v":-1170},{"s":"2209-2301","m":1.84,"v":-1203},{"s":"2209-2301","m":1.9,"v":-1148},{"s":"2209-2301","m":2.0,"v":-1126},{"s":"2209-2301","m":2.09,"v":-1093},{"s":"2209-2301","m":2.18,"v":-1093},{"s":"2209-2301","m":2.28,"v":-1082},{"s":"2209-2301","m":2.37,"v":-1060},{"s":"2209-2301","m":2.42,"v":-1038},{"s":"2209-2301","m":2.51,"v":-1049},{"s":"2209-2301","m":2.6,"v":-1038},{"s":"2209-2301","m":2.69,"v":-1049},{"s":"2209-2301","m":2.79,"v":-1082},{"s":"2209-2301","m":2.88,"v":-1104},{"s":"2209-2301","m":2.97,"v":-1104},{"s":"2209-2301","m":3.07,"v":-1082},{"s":"2209-2301","m":3.16,"v":-1104},{"s":"2209-2301","m":3.25,"v":-1137},{"s":"2209-2301","m":3.35,"v":-1148},{"s":"2209-2301","m":3.44,"v":-1137},{"s":"2209-2301","m":3.53,"v":-1126},{"s":"2209-2301","m":3.63,"v":-1115},{"s":"2209-2301","m":3.72,"v":-1093},{"s":"2209-2301","m":3.81,"v":-1104},{"s":"2209-2301","m":3.91,"v":-1104},{"s":"2209-2301","m":4.0,"v":-1093},{"s":"2209-2301","m":4.09,"v":-1115},{"s":"2209-2301","m":4.18,"v":-1082},{"s":"2209-2301","m":4.26,"v":-1049},{"s":"2209-2301","m":4.32,"v":-1093},{"s":"2209-2301","m":4.42,"v":-1126},{"s":"2209-2301","m":4.51,"v":-1137},{"s":"2209-2301","m":4.6,"v":-1126},{"s":"2209-2301","m":4.7,"v":-1104},{"s":"2209-2301","m":4.79,"v":-1126},{"s":"2209-2301","m":4.93,"v":-1126},{"s":"2209-2301","m":5.07,"v":-1137},{"s":"2209-2301","m":5.21,"v":-1115},{"s":"2209-2301","m":5.35,"v":-1093},{"s":"2209-2301","m":5.49,"v":-1082},{"s":"2209-2301","m":5.58,"v":-1060},{"s":"2209-2301","m":5.67,"v":-1071},{"s":"2209-2301","m":5.77,"v":-1082},{"s":"2209-2301","m":5.86,"v":-1071},{"s":"2209-2301","m":5.95,"v":-1093},{"s":"2209-2301","m":6.05,"v":-1115},{"s":"2209-2301","m":6.14,"v":-1137},{"s":"2209-2301","m":6.21,"v":-1104},{"s":"2209-2301","m":6.28,"v":-1060},{"s":"2209-2301","m":6.35,"v":-994},{"s":"2209-2301","m":6.42,"v":-951},{"s":"2209-2301","m":6.49,"v":-896},{"s":"2209-2301","m":6.53,"v":-940},{"s":"2209-2301","m":6.59,"v":-885},{"s":"2209-2301","m":6.65,"v":-918},{"s":"2209-2301","m":6.7,"v":-984},{"s":"2209-2301","m":6.77,"v":-962},{"s":"2209-2301","m":6.84,"v":-929},{"s":"2209-2301","m":6.9,"v":-951},{"s":"2209-2301","m":6.98,"v":-907},{"s":"2209-2301","m":7.05,"v":-863},{"s":"2209-2301","m":7.12,"v":-819},{"s":"2209-2301","m":7.18,"v":-841},{"s":"2209-2301","m":7.24,"v":-786},{"s":"2209-2301","m":7.31,"v":-819},{"s":"2209-2301","m":7.37,"v":-775},{"s":"2209-2301","m":7.44,"v":-841},{"s":"2209-2301","m":7.54,"v":-830},{"s":"2209-2301","m":7.61,"v":-819},{"s":"2209-2301","m":7.68,"v":-863},{"s":"2209-2301","m":7.74,"v":-929},{"s":"2209-2301","m":7.82,"v":-973},{"s":"2209-2301","m":7.89,"v":-994},{"s":"2209-2301","m":7.94,"v":-962},
{"s":"2309-2401","m":0.01,"v":-764},{"s":"2309-2401","m":0.04,"v":-830},{"s":"2309-2401","m":0.09,"v":-874},{"s":"2309-2401","m":0.13,"v":-852},{"s":"2309-2401","m":0.18,"v":-885},{"s":"2309-2401","m":0.22,"v":-852},{"s":"2309-2401","m":0.27,"v":-973},{"s":"2309-2401","m":0.32,"v":-1006},{"s":"2309-2401","m":0.37,"v":-973},{"s":"2309-2401","m":0.46,"v":-962},{"s":"2309-2401","m":0.6,"v":-951},{"s":"2309-2401","m":0.69,"v":-962},{"s":"2309-2401","m":0.79,"v":-929},{"s":"2309-2401","m":0.88,"v":-940},{"s":"2309-2401","m":1.02,"v":-940},{"s":"2309-2401","m":1.11,"v":-962},{"s":"2309-2401","m":1.21,"v":-973},{"s":"2309-2401","m":1.3,"v":-984},{"s":"2309-2401","m":1.39,"v":-973},{"s":"2309-2401","m":1.49,"v":-994},{"s":"2309-2401","m":1.58,"v":-994},{"s":"2309-2401","m":1.67,"v":-1006},{"s":"2309-2401","m":1.76,"v":-1006},{"s":"2309-2401","m":1.86,"v":-1082},{"s":"2309-2401","m":1.95,"v":-1093},{"s":"2309-2401","m":2.09,"v":-1082},{"s":"2309-2401","m":2.18,"v":-1093},{"s":"2309-2401","m":2.32,"v":-1049},{"s":"2309-2401","m":2.42,"v":-1038},{"s":"2309-2401","m":2.51,"v":-1060},{"s":"2309-2401","m":2.6,"v":-1049},{"s":"2309-2401","m":2.69,"v":-1071},{"s":"2309-2401","m":2.79,"v":-1082},{"s":"2309-2401","m":2.88,"v":-1060},{"s":"2309-2401","m":2.97,"v":-1093},{"s":"2309-2401","m":3.07,"v":-1082},{"s":"2309-2401","m":3.16,"v":-1027},{"s":"2309-2401","m":3.25,"v":-1082},{"s":"2309-2401","m":3.35,"v":-1071},{"s":"2309-2401","m":3.44,"v":-1071},{"s":"2309-2401","m":3.53,"v":-1071},{"s":"2309-2401","m":3.63,"v":-1082},{"s":"2309-2401","m":3.72,"v":-1082},{"s":"2309-2401","m":3.77,"v":-1192},{"s":"2309-2401","m":3.81,"v":-1346},{"s":"2309-2401","m":3.9,"v":-1368},{"s":"2309-2401","m":4.0,"v":-1346},{"s":"2309-2401","m":4.04,"v":-1368},{"s":"2309-2401","m":4.09,"v":-1291},{"s":"2309-2401","m":4.14,"v":-1280},{"s":"2309-2401","m":4.23,"v":-1324},{"s":"2309-2401","m":4.32,"v":-1313},{"s":"2309-2401","m":4.42,"v":-1313},{"s":"2309-2401","m":4.51,"v":-1313},{"s":"2309-2401","m":4.6,"v":-1302},{"s":"2309-2401","m":4.7,"v":-1236},{"s":"2309-2401","m":4.79,"v":-1236},{"s":"2309-2401","m":4.88,"v":-1269},{"s":"2309-2401","m":4.98,"v":-1225},{"s":"2309-2401","m":5.07,"v":-1258},{"s":"2309-2401","m":5.16,"v":-1214},{"s":"2309-2401","m":5.25,"v":-1203},{"s":"2309-2401","m":5.35,"v":-1170},{"s":"2309-2401","m":5.44,"v":-1126},{"s":"2309-2401","m":5.49,"v":-1071},{"s":"2309-2401","m":5.56,"v":-1049},{"s":"2309-2401","m":5.63,"v":-973},{"s":"2309-2401","m":5.69,"v":-907},{"s":"2309-2401","m":5.77,"v":-918},{"s":"2309-2401","m":5.81,"v":-874},{"s":"2309-2401","m":5.88,"v":-841},{"s":"2309-2401","m":5.95,"v":-885},{"s":"2309-2401","m":6.03,"v":-940},{"s":"2309-2401","m":6.09,"v":-907},{"s":"2309-2401","m":6.14,"v":-940}
],
"p3": [
{"s":"1901-1905","m":0.01,"v":-272},{"s":"1901-1905","m":0.08,"v":-303},{"s":"1901-1905","m":0.17,"v":-314},{"s":"1901-1905","m":0.26,"v":-303},{"s":"1901-1905","m":0.4,"v":-314},{"s":"1901-1905","m":0.54,"v":-303},{"s":"1901-1905","m":0.68,"v":-314},{"s":"1901-1905","m":0.77,"v":-334},{"s":"1901-1905","m":0.81,"v":-303},{"s":"1901-1905","m":0.9,"v":-272},{"s":"1901-1905","m":0.99,"v":-282},{"s":"1901-1905","m":1.09,"v":-293},{"s":"1901-1905","m":1.18,"v":-282},{"s":"1901-1905","m":1.27,"v":-272},{"s":"1901-1905","m":1.41,"v":-282},{"s":"1901-1905","m":1.54,"v":-272},{"s":"1901-1905","m":1.68,"v":-272},{"s":"1901-1905","m":1.82,"v":-282},{"s":"1901-1905","m":1.95,"v":-282},{"s":"1901-1905","m":2.09,"v":-293},{"s":"1901-1905","m":2.23,"v":-303},{"s":"1901-1905","m":2.32,"v":-293},{"s":"1901-1905","m":2.41,"v":-303},{"s":"1901-1905","m":2.5,"v":-334},{"s":"1901-1905","m":2.59,"v":-345},{"s":"1901-1905","m":2.68,"v":-355},{"s":"1901-1905","m":2.77,"v":-366},{"s":"1901-1905","m":2.87,"v":-355},{"s":"1901-1905","m":2.96,"v":-386},{"s":"1901-1905","m":3.05,"v":-376},{"s":"1901-1905","m":3.14,"v":-397},{"s":"1901-1905","m":3.23,"v":-386},{"s":"1901-1905","m":3.32,"v":-386},{"s":"1901-1905","m":3.41,"v":-376},{"s":"1901-1905","m":3.51,"v":-386},{"s":"1901-1905","m":3.6,"v":-376},{"s":"1901-1905","m":3.69,"v":-366},{"s":"1901-1905","m":3.78,"v":-366},{"s":"1901-1905","m":3.87,"v":-355},{"s":"1901-1905","m":3.96,"v":-334},{"s":"1901-1905","m":4.06,"v":-324},{"s":"1901-1905","m":4.2,"v":-334},{"s":"1901-1905","m":4.34,"v":-324},{"s":"1901-1905","m":4.47,"v":-334},{"s":"1901-1905","m":4.61,"v":-334},{"s":"1901-1905","m":4.75,"v":-324},{"s":"1901-1905","m":4.88,"v":-334},{"s":"1901-1905","m":5.0,"v":-334},{"s":"1901-1905","m":5.07,"v":-314},{"s":"1901-1905","m":5.21,"v":-314},{"s":"1901-1905","m":5.34,"v":-318},{"s":"1901-1905","m":5.48,"v":-310},{"s":"1901-1905","m":5.62,"v":-314},{"s":"1901-1905","m":5.71,"v":-293},{"s":"1901-1905","m":5.75,"v":-251},{"s":"1901-1905","m":5.8,"v":-231},{"s":"1901-1905","m":5.84,"v":-210},{"s":"1901-1905","m":5.89,"v":-189},{"s":"1901-1905","m":5.95,"v":-169},{"s":"1901-1905","m":5.98,"v":-138},{"s":"1901-1905","m":6.03,"v":-169},{"s":"1901-1905","m":6.07,"v":-179},{"s":"1901-1905","m":6.12,"v":-210},{"s":"1901-1905","m":6.19,"v":-200},{"s":"1901-1905","m":6.26,"v":-231},{"s":"1901-1905","m":6.32,"v":-210},{"s":"1901-1905","m":6.39,"v":-241},{"s":"1901-1905","m":6.48,"v":-262},{"s":"1901-1905","m":6.58,"v":-251},{"s":"1901-1905","m":6.67,"v":-272},{"s":"1901-1905","m":6.76,"v":-262},{"s":"1901-1905","m":6.85,"v":-272},{"s":"1901-1905","m":6.94,"v":-293},{"s":"1901-1905","m":7.03,"v":-282},{"s":"1901-1905","m":7.12,"v":-293},{"s":"1901-1905","m":7.21,"v":-272},{"s":"1901-1905","m":7.31,"v":-282},{"s":"1901-1905","m":7.4,"v":-293},{"s":"1901-1905","m":7.49,"v":-314},{"s":"1901-1905","m":7.58,"v":-303},{"s":"1901-1905","m":7.67,"v":-282},{"s":"1901-1905","m":7.76,"v":-272},{"s":"1901-1905","m":7.84,"v":-262},{"s":"1901-1905","m":7.9,"v":-303},
{"s":"2001-2005","m":0.01,"v":-210},{"s":"2001-2005","m":0.08,"v":-179},{"s":"2001-2005","m":0.17,"v":-220},{"s":"2001-2005","m":0.26,"v":-210},{"s":"2001-2005","m":0.36,"v":-200},{"s":"2001-2005","m":0.45,"v":-189},{"s":"2001-2005","m":0.54,"v":-200},{"s":"2001-2005","m":0.63,"v":-189},{"s":"2001-2005","m":0.72,"v":-169},{"s":"2001-2005","m":0.77,"v":-158},{"s":"2001-2005","m":0.81,"v":-189},{"s":"2001-2005","m":0.9,"v":-179},{"s":"2001-2005","m":0.99,"v":-169},{"s":"2001-2005","m":1.09,"v":-158},{"s":"2001-2005","m":1.18,"v":-164},{"s":"2001-2005","m":1.27,"v":-152},{"s":"2001-2005","m":1.36,"v":-169},{"s":"2001-2005","m":1.45,"v":-179},{"s":"2001-2005","m":1.54,"v":-200},{"s":"2001-2005","m":1.63,"v":-220},{"s":"2001-2005","m":1.73,"v":-231},{"s":"2001-2005","m":1.82,"v":-241},{"s":"2001-2005","m":1.91,"v":-262},{"s":"2001-2005","m":2.0,"v":-251},{"s":"2001-2005","m":2.09,"v":-262},{"s":"2001-2005","m":2.18,"v":-241},{"s":"2001-2005","m":2.27,"v":-251},{"s":"2001-2005","m":2.36,"v":-231},{"s":"2001-2005","m":2.46,"v":-210},{"s":"2001-2005","m":2.55,"v":-231},{"s":"2001-2005","m":2.64,"v":-241},{"s":"2001-2005","m":2.73,"v":-220},{"s":"2001-2005","m":2.82,"v":-210},{"s":"2001-2005","m":2.91,"v":-220},{"s":"2001-2005","m":3.0,"v":-189},{"s":"2001-2005","m":3.1,"v":-210},{"s":"2001-2005","m":3.19,"v":-200},{"s":"2001-2005","m":3.28,"v":-189},{"s":"2001-2005","m":3.37,"v":-200},{"s":"2001-2005","m":3.46,"v":-179},{"s":"2001-2005","m":3.55,"v":-169},{"s":"2001-2005","m":3.64,"v":-179},{"s":"2001-2005","m":3.73,"v":-169},{"s":"2001-2005","m":3.83,"v":-158},{"s":"2001-2005","m":3.93,"v":-179},{"s":"2001-2005","m":4.06,"v":-148},{"s":"2001-2005","m":4.2,"v":-158},{"s":"2001-2005","m":4.29,"v":-138},{"s":"2001-2005","m":4.38,"v":-158},{"s":"2001-2005","m":4.47,"v":-189},{"s":"2001-2005","m":4.61,"v":-179},{"s":"2001-2005","m":4.75,"v":-169},{"s":"2001-2005","m":4.84,"v":-179},{"s":"2001-2005","m":4.93,"v":-169},{"s":"2001-2005","m":5.02,"v":-179},{"s":"2001-2005","m":5.11,"v":-169},{"s":"2001-2005","m":5.21,"v":-189},{"s":"2001-2005","m":5.3,"v":-179},{"s":"2001-2005","m":5.39,"v":-169},{"s":"2001-2005","m":5.48,"v":-179},{"s":"2001-2005","m":5.57,"v":-169},{"s":"2001-2005","m":5.71,"v":-179},{"s":"2001-2005","m":5.84,"v":-179},{"s":"2001-2005","m":5.94,"v":-169},{"s":"2001-2005","m":6.03,"v":-179},{"s":"2001-2005","m":6.12,"v":-169},{"s":"2001-2005","m":6.16,"v":-148},{"s":"2001-2005","m":6.21,"v":-179},{"s":"2001-2005","m":6.26,"v":-96},{"s":"2001-2005","m":6.32,"v":-148},{"s":"2001-2005","m":6.38,"v":-169},{"s":"2001-2005","m":6.44,"v":-231},{"s":"2001-2005","m":6.5,"v":-272},{"s":"2001-2005","m":6.58,"v":-293},{"s":"2001-2005","m":6.67,"v":-334},{"s":"2001-2005","m":6.76,"v":-314},{"s":"2001-2005","m":6.85,"v":-324},{"s":"2001-2005","m":6.94,"v":-314},{"s":"2001-2005","m":7.08,"v":-314},{"s":"2001-2005","m":7.22,"v":-324},{"s":"2001-2005","m":7.35,"v":-334},{"s":"2001-2005","m":7.49,"v":-334},{"s":"2001-2005","m":7.63,"v":-345},{"s":"2001-2005","m":7.72,"v":-355},{"s":"2001-2005","m":7.78,"v":-334},{"s":"2001-2005","m":7.84,"v":-459},{"s":"2001-2005","m":7.88,"v":-417},{"s":"2001-2005","m":7.9,"v":-345},
{"s":"2101-2105","m":0.01,"v":-200},{"s":"2101-2105","m":0.08,"v":-179},{"s":"2101-2105","m":0.17,"v":-200},{"s":"2101-2105","m":0.26,"v":-189},{"s":"2101-2105","m":0.36,"v":-200},{"s":"2101-2105","m":0.45,"v":-179},{"s":"2101-2105","m":0.54,"v":-200},{"s":"2101-2105","m":0.63,"v":-189},{"s":"2101-2105","m":0.72,"v":-179},{"s":"2101-2105","m":0.81,"v":-200},{"s":"2101-2105","m":0.9,"v":-185},{"s":"2101-2105","m":1.09,"v":-189},{"s":"2101-2105","m":1.27,"v":-179},{"s":"2101-2105","m":1.45,"v":-169},{"s":"2101-2105","m":1.63,"v":-179},{"s":"2101-2105","m":1.82,"v":-169},{"s":"2101-2105","m":2.0,"v":-179},{"s":"2101-2105","m":2.18,"v":-169},{"s":"2101-2105","m":2.36,"v":-179},{"s":"2101-2105","m":2.55,"v":-169},{"s":"2101-2105","m":2.73,"v":-179},{"s":"2101-2105","m":2.91,"v":-169},{"s":"2101-2105","m":3.09,"v":-169},{"s":"2101-2105","m":3.28,"v":-164},{"s":"2101-2105","m":3.46,"v":-158},{"s":"2101-2105","m":3.64,"v":-164},{"s":"2101-2105","m":3.83,"v":-169},{"s":"2101-2105","m":3.93,"v":-169},{"s":"2101-2105","m":4.11,"v":-148},{"s":"2101-2105","m":4.29,"v":-158},{"s":"2101-2105","m":4.47,"v":-138},{"s":"2101-2105","m":4.66,"v":-148},{"s":"2101-2105","m":4.79,"v":-138},{"s":"2101-2105","m":4.84,"v":-44},{"s":"2101-2105","m":4.91,"v":142},{"s":"2101-2105","m":4.98,"v":277},{"s":"2101-2105","m":5.0,"v":339},{"s":"2101-2105","m":5.04,"v":298},{"s":"2101-2105","m":5.09,"v":225},{"s":"2101-2105","m":5.16,"v":132},{"s":"2101-2105","m":5.21,"v":111},{"s":"2101-2105","m":5.25,"v":153},{"s":"2101-2105","m":5.3,"v":256},{"s":"2101-2105","m":5.32,"v":298},{"s":"2101-2105","m":5.34,"v":277},{"s":"2101-2105","m":5.37,"v":526},{"s":"2101-2105","m":5.39,"v":588},{"s":"2101-2105","m":5.43,"v":557},{"s":"2101-2105","m":5.48,"v":536},{"s":"2101-2105","m":5.53,"v":370},{"s":"2101-2105","m":5.55,"v":205},{"s":"2101-2105","m":5.59,"v":246},{"s":"2101-2105","m":5.63,"v":132},{"s":"2101-2105","m":5.69,"v":59},{"s":"2101-2105","m":5.75,"v":39},{"s":"2101-2105","m":5.8,"v":-86},{"s":"2101-2105","m":5.84,"v":-44},{"s":"2101-2105","m":5.89,"v":-13},{"s":"2101-2105","m":5.94,"v":-23},{"s":"2101-2105","m":5.98,"v":-3},{"s":"2101-2105","m":6.03,"v":-65},{"s":"2101-2105","m":6.07,"v":-34},{"s":"2101-2105","m":6.12,"v":-55},{"s":"2101-2105","m":6.16,"v":-127},{"s":"2101-2105","m":6.21,"v":-96},{"s":"2101-2105","m":6.26,"v":-148},{"s":"2101-2105","m":6.3,"v":-169},{"s":"2101-2105","m":6.35,"v":-210},{"s":"2101-2105","m":6.39,"v":-231},{"s":"2101-2105","m":6.44,"v":-272},{"s":"2101-2105","m":6.48,"v":-251},{"s":"2101-2105","m":6.53,"v":-293},{"s":"2101-2105","m":6.59,"v":-251},{"s":"2101-2105","m":6.67,"v":-293},{"s":"2101-2105","m":6.74,"v":-231},{"s":"2101-2105","m":6.8,"v":-293},{"s":"2101-2105","m":6.87,"v":-251},{"s":"2101-2105","m":6.94,"v":-303},{"s":"2101-2105","m":7.01,"v":-251},{"s":"2101-2105","m":7.08,"v":-282},{"s":"2101-2105","m":7.14,"v":-189},{"s":"2101-2105","m":7.2,"v":-241},{"s":"2101-2105","m":7.26,"v":-220},{"s":"2101-2105","m":7.33,"v":-169},{"s":"2101-2105","m":7.4,"v":-231},{"s":"2101-2105","m":7.47,"v":-200},{"s":"2101-2105","m":7.53,"v":-169},{"s":"2101-2105","m":7.6,"v":-138},{"s":"2101-2105","m":7.65,"v":-107},{"s":"2101-2105","m":7.69,"v":-189},{"s":"2101-2105","m":7.75,"v":-251},{"s":"2101-2105","m":7.81,"v":-303},{"s":"2101-2105","m":7.85,"v":-231},{"s":"2101-2105","m":7.88,"v":-293},
{"s":"2201-2205","m":0.01,"v":-231},{"s":"2201-2205","m":0.08,"v":-251},{"s":"2201-2205","m":0.17,"v":-231},{"s":"2201-2205","m":0.26,"v":-220},{"s":"2201-2205","m":0.36,"v":-231},{"s":"2201-2205","m":0.45,"v":-210},{"s":"2201-2205","m":0.54,"v":-220},{"s":"2201-2205","m":0.63,"v":-210},{"s":"2201-2205","m":0.72,"v":-220},{"s":"2201-2205","m":0.81,"v":-200},{"s":"2201-2205","m":0.9,"v":-210},{"s":"2201-2205","m":0.99,"v":-200},{"s":"2201-2205","m":1.09,"v":-210},{"s":"2201-2205","m":1.18,"v":-189},{"s":"2201-2205","m":1.27,"v":-200},{"s":"2201-2205","m":1.36,"v":-189},{"s":"2201-2205","m":1.45,"v":-200},{"s":"2201-2205","m":1.54,"v":-189},{"s":"2201-2205","m":1.63,"v":-179},{"s":"2201-2205","m":1.73,"v":-200},{"s":"2201-2205","m":1.82,"v":-189},{"s":"2201-2205","m":1.91,"v":-200},{"s":"2201-2205","m":2.0,"v":-179},{"s":"2201-2205","m":2.09,"v":-169},{"s":"2201-2205","m":2.18,"v":-189},{"s":"2201-2205","m":2.27,"v":-169},{"s":"2201-2205","m":2.36,"v":-158},{"s":"2201-2205","m":2.46,"v":-169},{"s":"2201-2205","m":2.55,"v":-189},{"s":"2201-2205","m":2.64,"v":-179},{"s":"2201-2205","m":2.73,"v":-169},{"s":"2201-2205","m":2.82,"v":-179},{"s":"2201-2205","m":2.91,"v":-169},{"s":"2201-2205","m":3.0,"v":-179},{"s":"2201-2205","m":3.1,"v":-169},{"s":"2201-2205","m":3.19,"v":-179},{"s":"2201-2205","m":3.33,"v":-169},{"s":"2201-2205","m":3.46,"v":-158},{"s":"2201-2205","m":3.58,"v":-169},{"s":"2201-2205","m":3.73,"v":-158},{"s":"2201-2205","m":3.92,"v":-169},{"s":"2201-2205","m":4.11,"v":-158},{"s":"2201-2205","m":4.29,"v":-169},{"s":"2201-2205","m":4.43,"v":-179},{"s":"2201-2205","m":4.57,"v":-169},{"s":"2201-2205","m":4.7,"v":-158},{"s":"2201-2205","m":4.84,"v":-169},{"s":"2201-2205","m":4.93,"v":-148},{"s":"2201-2205","m":5.02,"v":-127},{"s":"2201-2205","m":5.11,"v":-158},{"s":"2201-2205","m":5.21,"v":-117},{"s":"2201-2205","m":5.3,"v":-158},{"s":"2201-2205","m":5.39,"v":-127},{"s":"2201-2205","m":5.48,"v":-169},{"s":"2201-2205","m":5.57,"v":-158},{"s":"2201-2205","m":5.66,"v":-189},{"s":"2201-2205","m":5.75,"v":-179},{"s":"2201-2205","m":5.84,"v":-200},{"s":"2201-2205","m":5.94,"v":-189},{"s":"2201-2205","m":6.03,"v":-200},{"s":"2201-2205","m":6.12,"v":-189},{"s":"2201-2205","m":6.21,"v":-210},{"s":"2201-2205","m":6.3,"v":-231},{"s":"2201-2205","m":6.39,"v":-251},{"s":"2201-2205","m":6.48,"v":-241},{"s":"2201-2205","m":6.58,"v":-262},{"s":"2201-2205","m":6.67,"v":-231},{"s":"2201-2205","m":6.76,"v":-262},{"s":"2201-2205","m":6.85,"v":-231},{"s":"2201-2205","m":6.94,"v":-251},{"s":"2201-2205","m":7.03,"v":-220},{"s":"2201-2205","m":7.12,"v":-200},{"s":"2201-2205","m":7.21,"v":-241},{"s":"2201-2205","m":7.31,"v":-220},{"s":"2201-2205","m":7.4,"v":-251},{"s":"2201-2205","m":7.49,"v":-231},{"s":"2201-2205","m":7.58,"v":-272},{"s":"2201-2205","m":7.67,"v":-251},{"s":"2201-2205","m":7.76,"v":-282},{"s":"2201-2205","m":7.85,"v":-272},{"s":"2201-2205","m":7.9,"v":-293},
{"s":"2301-2305","m":0.01,"v":-251},{"s":"2301-2305","m":0.04,"v":-220},{"s":"2301-2305","m":0.08,"v":-272},{"s":"2301-2305","m":0.17,"v":-241},{"s":"2301-2305","m":0.26,"v":-231},{"s":"2301-2305","m":0.36,"v":-251},{"s":"2301-2305","m":0.45,"v":-231},{"s":"2301-2305","m":0.54,"v":-210},{"s":"2301-2305","m":0.63,"v":-231},{"s":"2301-2305","m":0.72,"v":-251},{"s":"2301-2305","m":0.81,"v":-220},{"s":"2301-2305","m":0.9,"v":-262},{"s":"2301-2305","m":0.99,"v":-231},{"s":"2301-2305","m":1.09,"v":-200},{"s":"2301-2305","m":1.18,"v":-210},{"s":"2301-2305","m":1.27,"v":-169},{"s":"2301-2305","m":1.36,"v":-179},{"s":"2301-2305","m":1.45,"v":-138},{"s":"2301-2305","m":1.54,"v":-169},{"s":"2301-2305","m":1.63,"v":-148},{"s":"2301-2305","m":1.73,"v":-169},{"s":"2301-2305","m":1.82,"v":-138},{"s":"2301-2305","m":1.91,"v":-169},{"s":"2301-2305","m":2.0,"v":-148},{"s":"2301-2305","m":2.09,"v":-117},{"s":"2301-2305","m":2.18,"v":-127},{"s":"2301-2305","m":2.27,"v":-107},{"s":"2301-2305","m":2.36,"v":-127},{"s":"2301-2305","m":2.46,"v":-107},{"s":"2301-2305","m":2.55,"v":-127},{"s":"2301-2305","m":2.64,"v":-138},{"s":"2301-2305","m":2.73,"v":-148},{"s":"2301-2305","m":2.82,"v":-169},{"s":"2301-2305","m":2.91,"v":-169},{"s":"2301-2305","m":3.0,"v":-179},{"s":"2301-2305","m":3.1,"v":-169},{"s":"2301-2305","m":3.19,"v":-179},{"s":"2301-2305","m":3.28,"v":-169},{"s":"2301-2305","m":3.37,"v":-179},{"s":"2301-2305","m":3.46,"v":-169},{"s":"2301-2305","m":3.55,"v":-158},{"s":"2301-2305","m":3.64,"v":-127},{"s":"2301-2305","m":3.73,"v":-107},{"s":"2301-2305","m":3.83,"v":-65},{"s":"2301-2305","m":3.89,"v":-34},{"s":"2301-2305","m":3.93,"v":59},{"s":"2301-2305","m":3.97,"v":225},{"s":"2301-2305","m":4.04,"v":236},{"s":"2301-2305","m":4.11,"v":267},{"s":"2301-2305","m":4.16,"v":256},{"s":"2301-2305","m":4.2,"v":215},{"s":"2301-2305","m":4.29,"v":163},{"s":"2301-2305","m":4.34,"v":132},{"s":"2301-2305","m":4.38,"v":122},{"s":"2301-2305","m":4.47,"v":101},{"s":"2301-2305","m":4.57,"v":80},{"s":"2301-2305","m":4.66,"v":49},{"s":"2301-2305","m":4.75,"v":18},{"s":"2301-2305","m":4.84,"v":-23},{"s":"2301-2305","m":4.91,"v":-55},{"s":"2301-2305","m":4.98,"v":-65},{"s":"2301-2305","m":5.07,"v":-55},{"s":"2301-2305","m":5.16,"v":-65},{"s":"2301-2305","m":5.25,"v":-55},{"s":"2301-2305","m":5.34,"v":-34},{"s":"2301-2305","m":5.43,"v":-3},{"s":"2301-2305","m":5.5,"v":49},{"s":"2301-2305","m":5.55,"v":122},{"s":"2301-2305","m":5.62,"v":101},{"s":"2301-2305","m":5.66,"v":184},{"s":"2301-2305","m":5.71,"v":122},{"s":"2301-2305","m":5.75,"v":163},{"s":"2301-2305","m":5.82,"v":122},{"s":"2301-2305","m":5.87,"v":184},{"s":"2301-2305","m":5.94,"v":122},{"s":"2301-2305","m":6.01,"v":205},{"s":"2301-2305","m":6.07,"v":184},{"s":"2301-2305","m":6.14,"v":215},{"s":"2301-2305","m":6.21,"v":205},{"s":"2301-2305","m":6.26,"v":153},{"s":"2301-2305","m":6.32,"v":225},{"s":"2301-2305","m":6.37,"v":122},{"s":"2301-2305","m":6.42,"v":59},{"s":"2301-2305","m":6.48,"v":59},{"s":"2301-2305","m":6.53,"v":8},{"s":"2301-2305","m":6.58,"v":39},{"s":"2301-2305","m":6.67,"v":18},{"s":"2301-2305","m":6.76,"v":39},{"s":"2301-2305","m":6.85,"v":28},{"s":"2301-2305","m":6.94,"v":80},{"s":"2301-2305","m":7.03,"v":70},{"s":"2301-2305","m":7.12,"v":111},{"s":"2301-2305","m":7.21,"v":132},{"s":"2301-2305","m":7.31,"v":174},{"s":"2301-2305","m":7.4,"v":225},{"s":"2301-2305","m":7.49,"v":308},{"s":"2301-2305","m":7.53,"v":360},{"s":"2301-2305","m":7.58,"v":443},{"s":"2301-2305","m":7.61,"v":495},{"s":"2301-2305","m":7.67,"v":464},{"s":"2301-2305","m":7.75,"v":381},{"s":"2301-2305","m":7.81,"v":267},{"s":"2301-2305","m":7.85,"v":256},{"s":"2301-2305","m":7.87,"v":557},{"s":"2301-2305","m":7.9,"v":578},
{"s":"2401-2405","m":0.01,"v":80},{"s":"2401-2405","m":0.04,"v":111},{"s":"2401-2405","m":0.08,"v":59},{"s":"2401-2405","m":0.13,"v":49},{"s":"2401-2405","m":0.17,"v":70},{"s":"2401-2405","m":0.26,"v":64},{"s":"2401-2405","m":0.36,"v":59},{"s":"2401-2405","m":0.45,"v":70},{"s":"2401-2405","m":0.54,"v":64},{"s":"2401-2405","m":0.63,"v":76},{"s":"2401-2405","m":0.72,"v":64},{"s":"2401-2405","m":0.81,"v":70},{"s":"2401-2405","m":0.9,"v":55},{"s":"2401-2405","m":0.99,"v":49},{"s":"2401-2405","m":1.09,"v":39},{"s":"2401-2405","m":1.18,"v":22},{"s":"2401-2405","m":1.22,"v":39},{"s":"2401-2405","m":1.27,"v":28},{"s":"2401-2405","m":1.36,"v":49},{"s":"2401-2405","m":1.45,"v":59},{"s":"2401-2405","m":1.54,"v":49},{"s":"2401-2405","m":1.63,"v":80},{"s":"2401-2405","m":1.73,"v":70},{"s":"2401-2405","m":1.82,"v":59},{"s":"2401-2405","m":1.91,"v":49},{"s":"2401-2405","m":2.0,"v":28},{"s":"2401-2405","m":2.09,"v":8}
]
},
"hconcat": [
{
  "width": 289, "height": 193,
  "title": {"text": "RU5-9价差", "offset": 11.5},
  "data": {"name": "p1"},
  "mark": {"type": "line", "strokeWidth": 1.5},
  "encoding": {
    "x": {"field": "m", "type": "quantitative", "scale": {"domain": [0, 8.02], "nice": false, "zero": false},
      "axis": {"values": [0,1,2,3,4,5,6,7,8], "labelExpr": "['9/16','10/16','11/16','12/16','1/16','2/16','3/16','4/16','5/16'][datum.value]", "labelAngle": -25, "labelAlign": "right", "labelBaseline": "top", "labelFlush": false, "labelOverlap": false, "tickSize": 4, "labelPadding": 2}},
    "y": {"field": "v", "type": "quantitative", "scale": {"domain": [-400, 439.1], "nice": false, "zero": false},
      "axis": {"values": [-400,-300,-200,-100,0,100,200,300,400], "labelExpr": "'' + datum.value", "domain": false, "ticks": false, "labelPadding": 6, "minExtent": 39.5, "maxExtent": 39.5}},
    "color": {"field": "s", "type": "nominal",
      "scale": {"domain": ["1905-1909","2005-2009","2105-2109","2205-2209","2305-2309"], "range": ["#F08A3E","#1F8BFF","#A6A6A6","#000000","#FF0000"]},
      "legend": {"orient": "none", "legendX": 5.5, "legendY": -6.5, "columns": 3, "columnPadding": 16.2, "rowPadding": 0, "labelOffset": 18}}
  }
},
{
  "width": 288, "height": 197,
  "title": {"text": "RU9-1价差", "offset": 10.5},
  "data": {"name": "p2"},
  "layer": [
    {
      "mark": {"type": "line", "strokeWidth": 1.5},
      "encoding": {
        "x": {"field": "m", "type": "quantitative", "scale": {"domain": [0, 8.05], "nice": false, "zero": false},
          "axis": {"orient": "bottom", "values": [0,1,2,3,4,5,6,7,8], "labelExpr": "['1/18','2/18','3/18','4/18','5/18','6/18','7/18','8/18','9/18'][datum.value]", "labelAngle": -25, "labelAlign": "right", "labelBaseline": "top", "labelFlush": false, "labelOverlap": false, "domain": false, "ticks": false, "labelPadding": 6}},
        "y": {"field": "v", "type": "quantitative", "scale": {"domain": [-1700, -401.1], "nice": false, "zero": false},
          "axis": {"values": [-1700,-1500,-1300,-1100,-900,-700,-500], "labelExpr": "'' + datum.value", "domain": false, "ticks": false, "labelPadding": 6, "minExtent": 40, "maxExtent": 40}},
        "color": {"field": "s", "type": "nominal",
          "scale": {"domain": ["1909-2001","2009-2101","2109-2201","2209-2301","2309-2401"], "range": ["#2E8B6E","#FF8C1A","#1F8BFF","#000000","#FF0000"]},
          "legend": {"orient": "none", "legendX": -1, "legendY": -10.5, "columns": 3, "columnPadding": 11.2, "rowPadding": 2, "labelOffset": 16}}
      }
    },
    {
      "mark": {"type": "line", "strokeOpacity": 0},
      "encoding": {
        "x": {"field": "m", "type": "quantitative",
          "axis": {"orient": "top", "offset": -15, "values": [0,1,2,3,4,5,6,7,8], "labels": false, "domain": true, "ticks": true, "tickSize": 4, "domainColor": "#BFBFBF", "tickColor": "#BFBFBF"}},
        "y": {"field": "v", "type": "quantitative",
          "axis": {"values": [-1700,-1500,-1300,-1100,-900,-700,-500], "labelExpr": "'' + datum.value", "domain": false, "ticks": false, "labelPadding": 6, "minExtent": 40, "maxExtent": 40}}
      }
    }
  ],
  "resolve": {"axis": {"x": "independent"}}
},
{
  "width": 288, "height": 193,
  "title": {"text": "RU1-5价差", "offset": 15.8},
  "data": {"name": "p3"},
  "mark": {"type": "line", "strokeWidth": 1.5},
  "encoding": {
    "x": {"field": "m", "type": "quantitative", "scale": {"domain": [0, 7.9], "nice": false, "zero": false},
      "axis": {"values": [0,1,2,3,4,5,6,7], "labelExpr": "['5/17','6/17','7/17','8/17','9/17','10/17','11/17','12/17'][datum.value]", "labelAngle": -25, "labelAlign": "right", "labelBaseline": "top", "labelFlush": false, "labelOverlap": false, "tickSize": 4, "labelPadding": 2}},
    "y": {"field": "v", "type": "quantitative", "scale": {"domain": [-500, 700], "nice": false, "zero": false},
      "axis": {"values": [-500,-300,-100,100,300,500,700], "labelExpr": "'' + datum.value", "domain": false, "ticks": false, "labelPadding": 7, "minExtent": 40, "maxExtent": 40}},
    "color": {"field": "s", "type": "nominal",
      "scale": {"domain": ["1901-1905","2001-2005","2101-2105","2201-2205","2301-2305","2401-2405"], "range": ["#2E8B6E","#FF9A2E","#1F8BFF","#C8C8C8","#8585FF","#FF0000"]},
      "legend": {"orient": "none", "legendX": 0, "legendY": -4.2, "columns": 3, "columnPadding": 2.2, "rowPadding": 1, "labelOffset": 17}}
  }
}
]
}
